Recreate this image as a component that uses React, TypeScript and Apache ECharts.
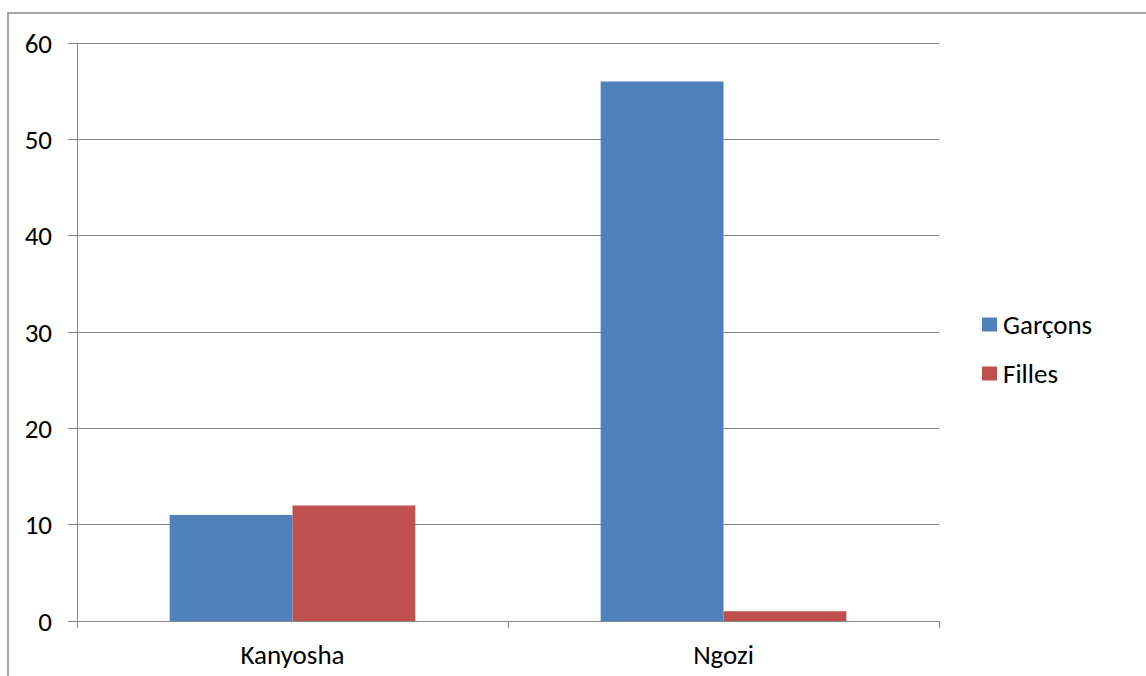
import React, { useEffect, useRef } from "react";
import * as echarts from "echarts";

const categories = ["Kanyosha", "Ngozi"];
const garcons = [11, 56];
const filles = [12, 1];
const seriesNames = ["Garçons", "Filles"];

export default function App() {
  const ref = useRef<HTMLDivElement>(null);
  useEffect(() => {
    const chart = echarts.init(ref.current!, null, { renderer: "svg" });
    const font = "Calibri, Carlito, 'Open Sans', 'Liberation Sans', sans-serif";
    chart.setOption({
      animation: false,
      backgroundColor: "#ffffff",
      textStyle: { fontFamily: font },
      graphic: [
        {
          type: "rect",
          shape: { x: 8, y: 13, width: 1160, height: 700 },
          style: { fill: "none", stroke: "#898989", lineWidth: 1.5 },
          silent: true,
        },
      ],
      grid: { left: 77, top: 43, width: 862, height: 578, containLabel: false },
      legend: {
        orient: "vertical",
        left: 977,
        top: 306,
        itemWidth: 15,
        itemHeight: 14,
        itemGap: 22,
        icon: "rect",
        data: seriesNames,
        textStyle: {
          fontSize: 27,
          lineHeight: 27,
          color: "#000",
          fontFamily: font,
          padding: [0, 0, 0, 1],
        },
      },
      xAxis: {
        type: "category",
        data: categories,
        axisLine: { lineStyle: { color: "#868686", width: 1 } },
        axisTick: { show: true, length: 7, lineStyle: { color: "#868686" } },
        axisLabel: { fontSize: 27, color: "#000", margin: 20, fontFamily: font },
      },
      yAxis: {
        type: "value",
        min: 0,
        max: 60,
        interval: 10,
        axisLine: { show: true, lineStyle: { color: "#868686", width: 1 } },
        axisTick: { show: true, length: 9, lineStyle: { color: "#868686" } },
        splitLine: { lineStyle: { color: "#868686", width: 1 } },
        axisLabel: { fontSize: 27, color: "#000", margin: 25, fontFamily: font },
      },
      series: [
        {
          name: seriesNames[0],
          type: "bar",
          data: garcons,
          barGap: "0%",
          barCategoryGap: "43%",
          itemStyle: { color: "#4F81BD" },
        },
        {
          name: seriesNames[1],
          type: "bar",
          data: filles,
          itemStyle: { color: "#C0504D" },
        },
      ],
    });
    return () => chart.dispose();
  }, []);
  return (
    <div
      ref={ref}
      style={{ position: "fixed", left: 0, top: 0, width: 1146, height: 676 }}
    />
  );
}
